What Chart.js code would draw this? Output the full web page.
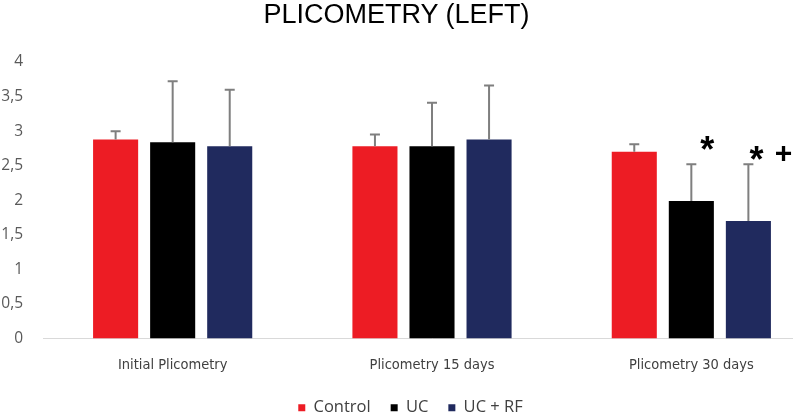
<!DOCTYPE html>
<html>
<head>
<meta charset="utf-8">
<script src="https://cdn.jsdelivr.net/npm/chart.js@4"></script>
<style>
  html, body { margin: 0; padding: 0; background: #fff; }
  body { position: relative; width: 793px; height: 420px; overflow: hidden; }
  #wrap { position: relative; width: 821px; height: 420px; }
  #title {
    position: absolute; left: 0; top: 1px; width: 793px; z-index: 1;
    text-align: center; font: 27px/27px 'Liberation Sans', Arial, sans-serif; color: #000;
  }
</style>
</head>
<body>
<div id="title">PLICOMETRY (LEFT)</div>
<div id="wrap"><canvas id="chart"></canvas></div>
<script>
var categories = ['Initial Plicometry', 'Plicometry 15 days', 'Plicometry 30 days'];
var control = [2.88, 2.78, 2.70];
var controlErr = [0.12, 0.17, 0.11];
var uc = [2.84, 2.78, 1.99];
var ucErr = [0.88, 0.63, 0.53];
var ucRf = [2.78, 2.88, 1.70];
var ucRfErr = [0.82, 0.78, 0.82];
var yTicks = [0, 0.5, 1, 1.5, 2, 2.5, 3, 3.5, 4];
// significance marks: [dataset, category, text]
var marks = [[1, 2, '*'], [2, 2, '*'], [2, 2, '+']];

// draws the upper error bars and the marks above them
var errorBars = {
    id: 'errorBars',
    afterDatasetsDraw(chart) {
        var ctx = chart.ctx;
        var y = chart.scales.y;
        ctx.save();
        ctx.strokeStyle = '#7f7f7f';
        ctx.lineWidth = 2;
        chart.data.datasets.forEach(function (ds, di) {
            var meta = chart.getDatasetMeta(di);
            meta.data.forEach(function (bar, i) {
                var top = y.getPixelForValue(ds.data[i] + ds.errors[i]);
                ctx.beginPath();
                ctx.moveTo(bar.x, bar.y);
                ctx.lineTo(bar.x, top);
                ctx.moveTo(bar.x - 5, top);
                ctx.lineTo(bar.x + 5, top);
                ctx.stroke();
            });
        });
        ctx.fillStyle = '#000';
        ctx.textAlign = 'center';
        ctx.textBaseline = 'middle';
        marks.forEach(function (m) {
            var ds = chart.data.datasets[m[0]];
            var bar = chart.getDatasetMeta(m[0]).data[m[1]];
            var top = y.getPixelForValue(ds.data[m[1]] + ds.errors[m[1]]);
            var dx, dy;
            if (m[2] === '+') {
                ctx.font = 'bold 30px "Liberation Sans", Arial, sans-serif';
                dx = 35; dy = -10;
            } else {
                ctx.font = 'bold 36px "Liberation Sans", Arial, sans-serif';
                dx = m[0] === 1 ? 16 : 8;
                dy = m[0] === 1 ? -12 : -2;
            }
            ctx.fillText(m[2], bar.x + dx, top + dy);
        });
        ctx.restore();
    }
};

var ctx = document.getElementById('chart').getContext('2d');
var myChart = new Chart(ctx, {
    type: 'bar',
    data: {
        labels: categories,
        datasets: [
            { label: 'Control', data: control, errors: controlErr, backgroundColor: '#ED1C24' },
            { label: 'UC', data: uc, errors: ucErr, backgroundColor: '#000000' },
            { label: 'UC + RF', data: ucRf, errors: ucRfErr, backgroundColor: '#202A5E' }
        ]
    },
    options: {
        responsive: true,
        maintainAspectRatio: false,
        animation: false,
        categoryPercentage: 0.66,
        barPercentage: 0.79,
        layout: { padding: { top: 62, right: 0, bottom: -6, left: 0 } },
        scales: {
            x: {
                afterFit: function (s) { s.height = 41; },
                grid: { display: false, drawTicks: false },
                border: { display: true, color: '#d9d9d9', width: 1 },
                ticks: {
                    color: '#404040',
                    padding: 18,
                    font: { size: 14.5, family: "'DejaVu Sans Condensed', 'DejaVu Sans', sans-serif" }
                }
            },
            y: {
                min: 0,
                max: 4,
                afterBuildTicks: function (s) { s.ticks = yTicks.map(function (v) { return { value: v }; }); },
                afterFit: function (s) { s.width = 43; },
                grid: { display: false, drawTicks: false },
                border: { display: false },
                ticks: {
                    color: '#595959',
                    padding: 20,
                    font: { size: 15.5, family: "'Open Sans', sans-serif" },
                    callback: function (v) { return String(v).replace('.', ','); }
                }
            }
        },
        plugins: {
            title: { display: false },
            legend: {
                position: 'bottom',
                labels: {
                    boxWidth: 7,
                    boxHeight: 7,
                    color: '#404040',
                    padding: 20,
                    font: { size: 16.5, family: "'Open Sans', sans-serif" }
                }
            },
            tooltip: { enabled: false }
        }
    },
    plugins: [errorBars]
});
</script>
</body>
</html>
